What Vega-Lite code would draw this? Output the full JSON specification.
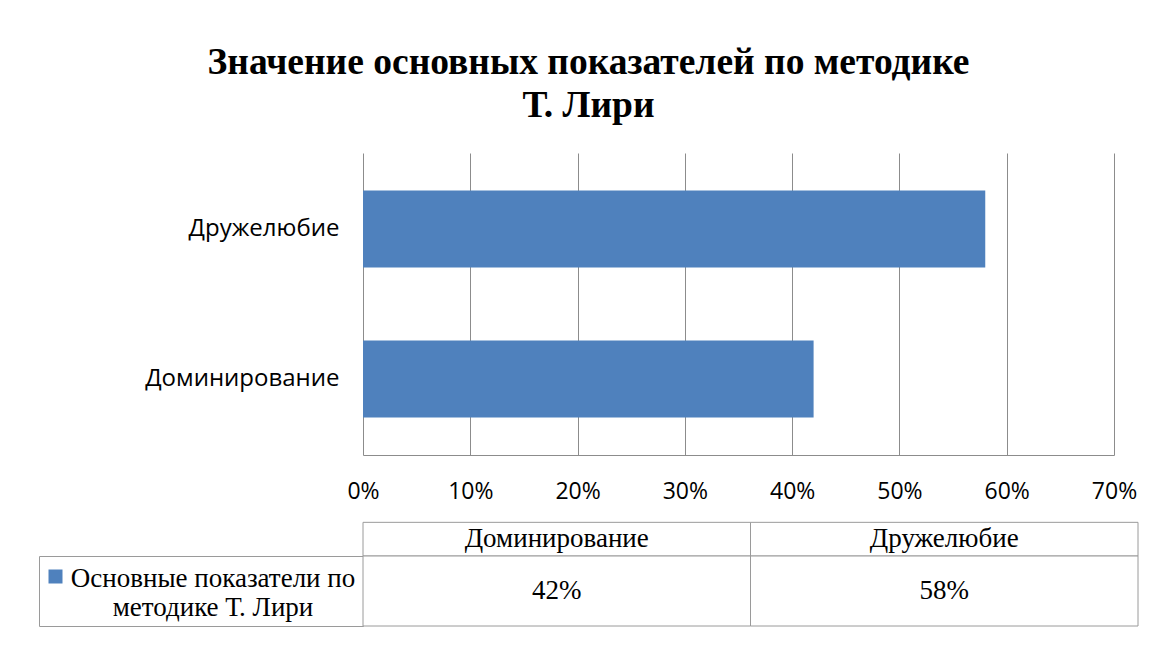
{
  "$schema": "https://vega.github.io/schema/vega-lite/v6.json",
  "padding": {"left": 38, "top": 43, "right": 0, "bottom": 0},
  "background": "white",
  "title": {
    "text": ["Значение основных показателей по методике", "Т. Лири"],
    "font": "Liberation Serif",
    "fontSize": 37.5,
    "fontWeight": "bold",
    "color": "black",
    "anchor": "middle",
    "offset": 29,
    "lineHeight": 43
  },
  "datasets": {
    "main": [
      {"category": "Дружелюбие", "value": 0.58, "series": "Основные показатели по методике Т. Лири"},
      {"category": "Доминирование", "value": 0.42, "series": "Основные показатели по методике Т. Лири"}
    ]
  },
  "columns": 2,
  "spacing": {"row": 0, "column": 0},
  "bounds": "flush",
  "concat": [
    {"width": 324, "height": 302, "data": {"values": []}, "mark": "rect"},
    {
      "width": 751,
      "height": 302,
      "data": {"name": "main"},
      "mark": {"type": "bar"},
      "encoding": {
        "y": {
          "field": "category",
          "type": "nominal",
          "sort": ["Дружелюбие", "Доминирование"],
          "scale": {"paddingInner": 0.487, "paddingOuter": 0.25},
          "axis": {
            "title": null,
            "domain": false,
            "ticks": false,
            "labelFont": "Open Sans",
            "labelFontSize": 24,
            "labelColor": "black",
            "labelPadding": 24,
            "labelLimit": 300
          }
        },
        "x": {
          "field": "value",
          "type": "quantitative",
          "scale": {"domain": [0, 0.7], "nice": false},
          "axis": {
            "title": null,
            "values": [0, 0.1, 0.2, 0.3, 0.4, 0.5, 0.6, 0.7],
            "format": ".0%",
            "grid": true,
            "gridColor": "#8c8c8c",
            "gridOpacity": 1,
            "domainColor": "#8c8c8c",
            "ticks": false,
            "labelFont": "Open Sans",
            "labelFontSize": 23,
            "labelColor": "black",
            "labelPadding": 25,
            "labelFlush": false,
            "labelOverlap": false
          }
        },
        "color": {
          "field": "series",
          "type": "nominal",
          "scale": {"range": ["#4F81BD"]},
          "legend": {
            "orient": "none",
            "legendX": 3,
            "legendY": 410,
            "title": null,
            "padding": 0,
            "symbolType": "square",
            "symbolSize": 196,
            "symbolStrokeWidth": 0,
            "symbolOpacity": 1,
            "labelFont": "Liberation Serif",
            "labelFontSize": 27,
            "labelColor": "black",
            "labelLimit": 400,
            "labelAlign": "center",
            "labelBaseline": "top",
            "labelOffset": 144,
            "labelExpr": "split(replace(datum.label, ' по ', ' по|'), '|')",
            "encoding": {"labels": {"dy": {"value": -11}}}
          }
        }
      }
    },
    {"width": 324, "height": 101, "data": {"values": []}, "mark": "rect"},
    {
      "width": 775,
      "height": 101,
      "data": {"name": "main"},
      "encoding": {
        "x": {
          "field": "category",
          "type": "nominal",
          "sort": ["Доминирование", "Дружелюбие"],
          "scale": {"paddingInner": 0, "paddingOuter": 0},
          "axis": null
        },
        "y": {
          "datum": "header",
          "type": "nominal",
          "scale": {"paddingInner": 0, "paddingOuter": 1.129, "align": 1},
          "axis": null
        }
      },
      "layer": [
        {"mark": {"type": "rect", "fill": "white", "stroke": "#9a9a9a", "strokeWidth": 1}},
        {
          "mark": {"type": "text", "font": "Liberation Serif", "fontSize": 27, "color": "black"},
          "encoding": {"text": {"field": "category"}}
        }
      ]
    },
    {
      "width": 324,
      "height": 70,
      "view": {"stroke": "#9a9a9a", "strokeWidth": 1},
      "data": {"values": []},
      "mark": "rect"
    },
    {
      "width": 775,
      "height": 70,
      "data": {"name": "main"},
      "encoding": {
        "x": {
          "field": "category",
          "type": "nominal",
          "sort": ["Доминирование", "Дружелюбие"],
          "scale": {"paddingInner": 0, "paddingOuter": 0},
          "axis": null
        }
      },
      "layer": [
        {"mark": {"type": "rect", "fill": "white", "stroke": "#9a9a9a", "strokeWidth": 1}},
        {
          "mark": {"type": "text", "font": "Liberation Serif", "fontSize": 27, "color": "black"},
          "encoding": {"text": {"field": "value", "format": ".0%"}}
        }
      ]
    }
  ],
  "config": {"view": {"stroke": null}, "font": "Open Sans"}
}
